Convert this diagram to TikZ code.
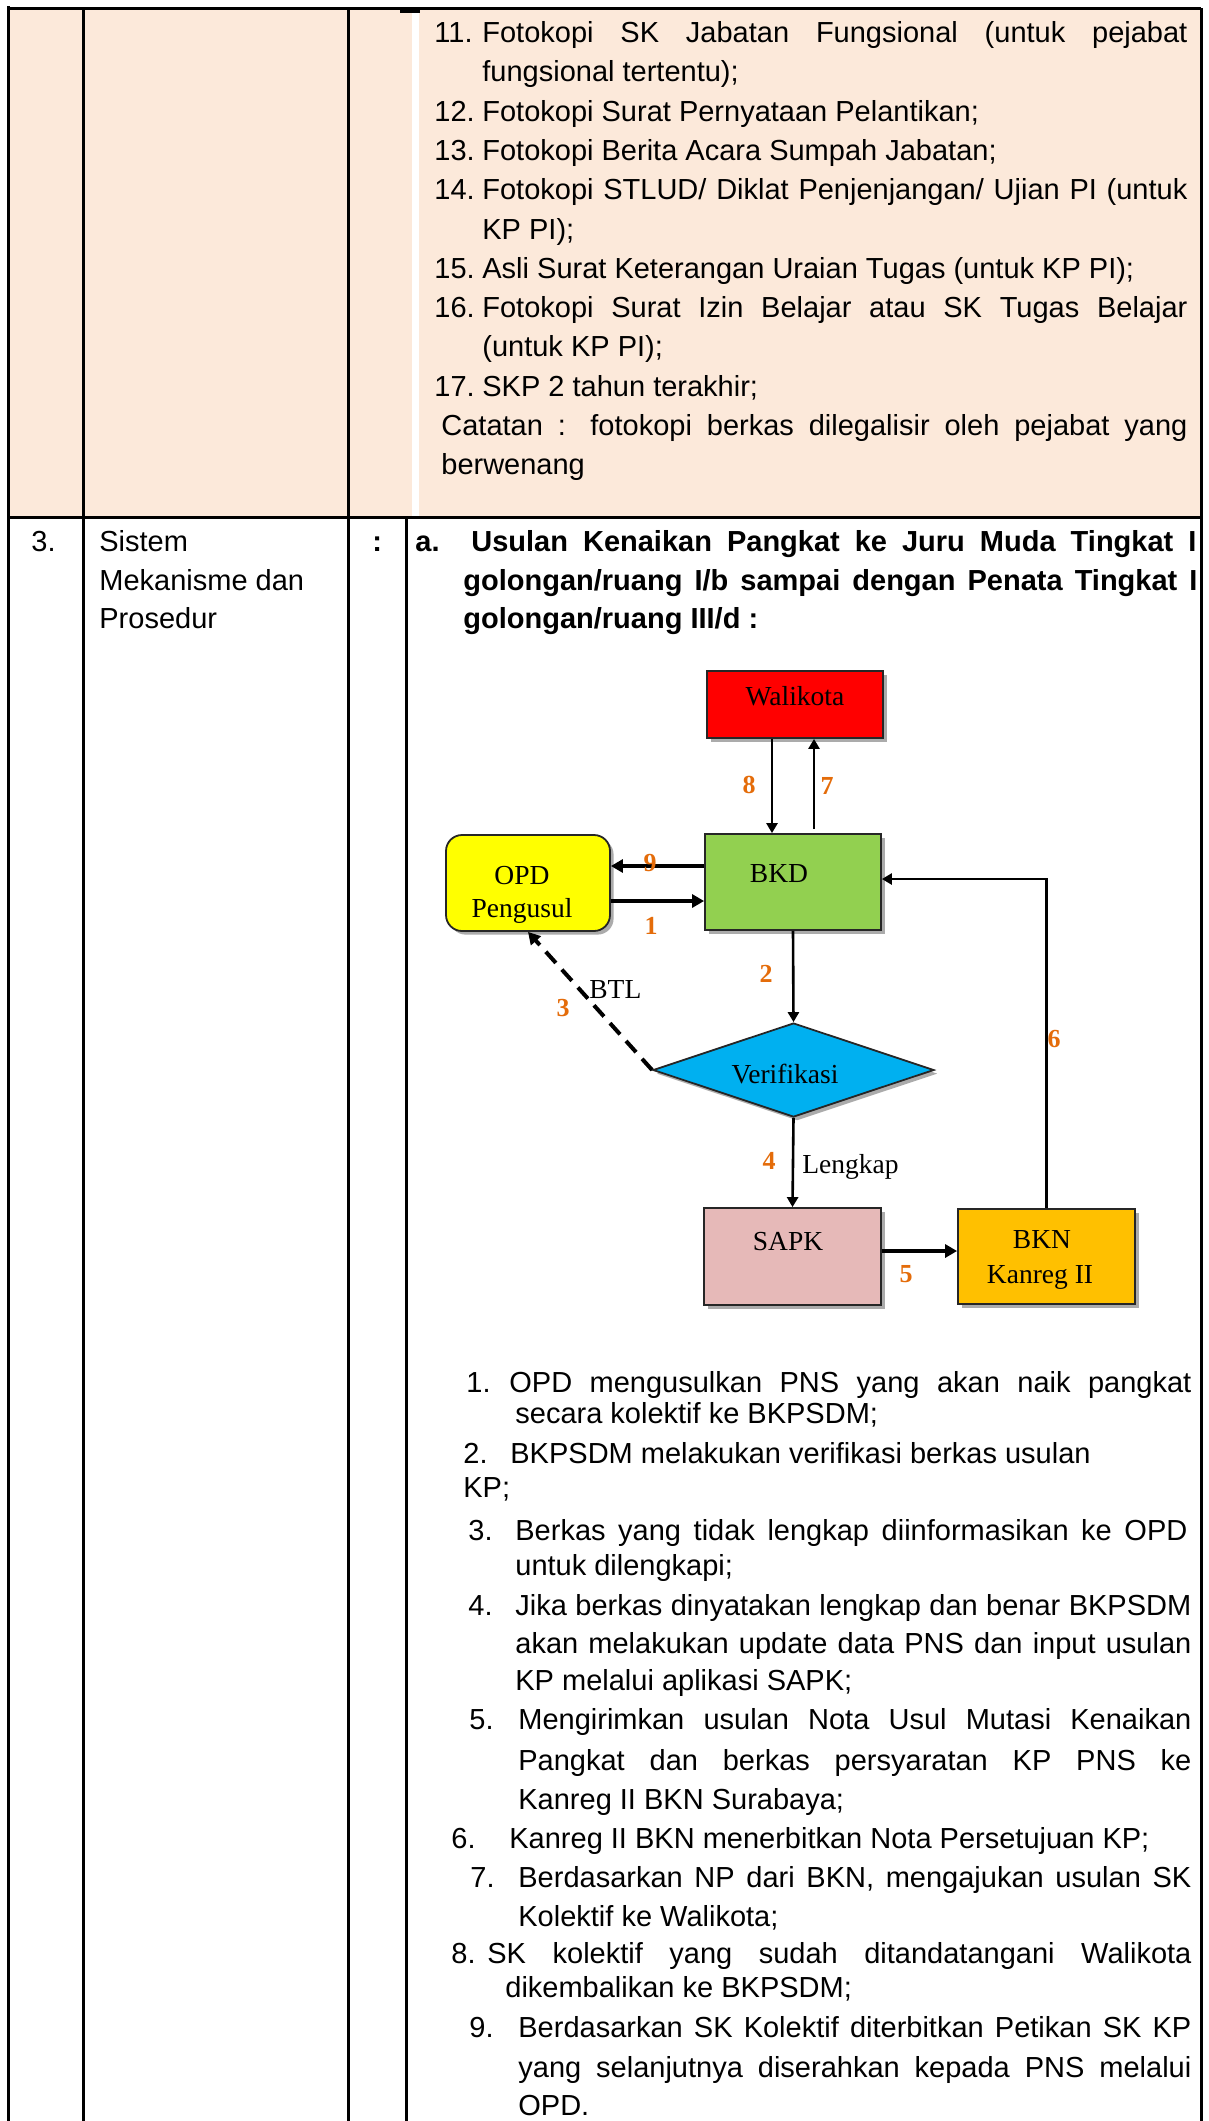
\documentclass[tikz,border=0pt]{standalone}
\usepackage{fontspec}
\setmainfont{Liberation Serif}
\newfontfamily\arialf{Liberation Sans}
\usetikzlibrary{arrows.meta,calc,shapes.geometric,shadows}
\definecolor{peach}{HTML}{FCE9DA}
\definecolor{walired}{HTML}{FF0000}
\definecolor{bkdgreen}{HTML}{92D050}
\definecolor{opdyellow}{HTML}{FFFF00}
\definecolor{verblue}{HTML}{00B0F0}
\definecolor{sapkpink}{HTML}{E6B9B8}
\definecolor{bknorange}{HTML}{FFC000}
\definecolor{numorange}{HTML}{E46C0A}
\newcommand\bodyf{\arialf\fontsize{14.5}{17}\selectfont}
\newcommand\diagf{\fontsize{13.75}{15}\selectfont}
\newcommand\jl[2]{\makebox[#1][s]{#2}}
\begin{document}
\begin{tikzpicture}[x=0.5pt,y=-0.5pt,
  rule/.style={line width=1.5pt},
  txt/.style={anchor=base west,inner sep=0pt,font=\bodyf},
  btxt/.style={anchor=base west,inner sep=0pt,font=\bodyf\bfseries},
  box/.style={draw=black!85,line width=0.9pt,inner sep=0pt,
    drop shadow={shadow xshift=1.8pt,shadow yshift=-1.8pt,fill=black!55,opacity=.6}},
  lbl/.style={anchor=base,inner sep=0pt,font=\diagf},
  num/.style={anchor=base,inner sep=0pt,text=numorange,font=\fontsize{13}{14}\selectfont\bfseries},
  arr/.style={line width=1.3pt,-{Triangle[length=5pt,width=5.5pt]}},
  arrb/.style={line width=2pt,-{Triangle[length=6pt,width=6.5pt]}},
  dsh/.style={line width=2pt,dash pattern=on 7.5pt off 4.5pt,-{Triangle[length=6pt,width=6.5pt]}},
]
\useasboundingbox (0,0) rectangle (1209,2121);

% shaded upper row
\fill[peach] (8,8) rectangle (412,517);
\fill[peach] (419,8) rectangle (1201,517);

% table rules
\draw[rule] (8,8) -- (1201,8);
\draw[rule] (400,11) -- (420,11);
\draw[rule] (8,517) -- (1201,517);
\draw[rule] (8,6) -- (8,2121);
\draw[rule] (83,8) -- (83,2121);
\draw[rule] (348,8) -- (348,2121);
\draw[rule] (406,517) -- (406,2121);
\draw[rule] (1201,8) -- (1201,2121);

% requirements list (continued)
\node[txt] (n11) at (434,42) {11.};
\node[txt] (r11a) at (482,42) {\jl{352.5pt}{Fotokopi SK Jabatan Fungsional (untuk pejabat}};
\node[txt] (r11b) at (482,81) {fungsional tertentu);};
\node[txt] (n12) at (434,121) {12.};
\node[txt] (r12) at (482,121) {Fotokopi Surat Pernyataan Pelantikan;};
\node[txt] (n13) at (434,160) {13.};
\node[txt] (r13) at (482,160) {Fotokopi Berita Acara Sumpah Jabatan;};
\node[txt] (n14) at (434,199) {14.};
\node[txt] (r14a) at (482,199) {\jl{352.5pt}{Fotokopi STLUD/ Diklat Penjenjangan/ Ujian PI (untuk}};
\node[txt] (r14b) at (482,239) {KP PI);};
\node[txt] (n15) at (434,278) {15.};
\node[txt] (r15) at (482,278) {Asli Surat Keterangan Uraian Tugas (untuk KP PI);};
\node[txt] (n16) at (434,317) {16.};
\node[txt] (r16a) at (482,317) {\jl{352.5pt}{Fotokopi Surat Izin Belajar atau SK Tugas Belajar}};
\node[txt] (r16b) at (482,356) {(untuk KP PI);};
\node[txt] (n17) at (434,396) {17.};
\node[txt] (r17) at (482,396) {SKP 2 tahun terakhir;};
\node[txt] (cat1) at (441,435) {\jl{373pt}{Catatan : fotokopi berkas dilegalisir oleh pejabat yang}};
\node[txt] (cat2) at (441,474) {berwenang};

% row 3 header
\node[txt] (no3) at (31,551) {3.};
\node[txt] (s1) at (99,551) {Sistem};
\node[txt] (s2) at (99,590) {Mekanisme dan};
\node[txt] (s3) at (99,628) {Prosedur};
\node[btxt] (colon) at (372,551) {:};
\node[btxt] (ha) at (415,551) {a.};
\node[btxt] (h1) at (471,551) {\jl{362.5pt}{Usulan Kenaikan Pangkat ke Juru Muda Tingkat I}};
\node[btxt] (h2) at (463,590) {\jl{367pt}{golongan/ruang I/b sampai dengan Penata Tingkat I}};
\node[btxt] (h3) at (463,628) {golongan/ruang III/d :};

% flowchart boxes
\node[box,fill=walired,minimum width=88pt,minimum height=33.5pt] (wali) at (795,704.5) {};
\node[box,fill=bkdgreen,minimum width=88pt,minimum height=48pt] (bkd) at (793,882) {};
\node[box,fill=opdyellow,rounded corners=8pt,minimum width=82pt,minimum height=48pt] (opd) at (528,883) {};
\node[box,diamond,fill=verblue,minimum width=140.5pt,minimum height=47pt] (ver) at (793.5,1070) {};
\node[box,fill=sapkpink,minimum width=88.5pt,minimum height=48.5pt] (sapk) at (792.5,1256.5) {};
\node[box,fill=bknorange,minimum width=88.5pt,minimum height=47.5pt] (bkn) at (1046.5,1256.5) {};

\node[lbl] (walit) at (795,705) {Walikota};
\node[lbl] (bkdt) at (779,882) {BKD};
\node[lbl] (opdt1) at (522,884) {OPD};
\node[lbl] (opdt2) at (522,917) {Pengusul};
\node[lbl] (vert) at (785,1083) {Verifikasi};
\node[lbl] (sapkt) at (788,1250) {SAPK};
\node[lbl] (bknt1) at (1042,1248) {BKN};
\node[lbl] (bknt2) at (1040,1283) {Kanreg II};

% connectors
\coordinate (p8) at ($(wali.south)+(-23,0)$);
\draw[arr] (p8) -- (p8 |- bkd.north);
\coordinate (p7) at ($(bkd.north)+(21,-4)$);
\draw[arr] (p7) -- (p7 |- wali.south);
\coordinate (p9) at ($(bkd.west)+(0,-16)$);
\draw[arrb] (p9) -- (p9 -| opd.east);
\coordinate (p1) at ($(opd.east)+(0,18)$);
\draw[arrb] (p1) -- (p1 -| bkd.west);
\draw[arr] (bkd.south) -- (ver.north);
\draw[dsh] (ver.west) -- (opd.south);
\draw[arr] (ver.south) -- (sapk.north);
\coordinate (p5) at ($(sapk.east)+(0,-5.5)$);
\draw[arrb] (p5) -- (p5 -| bkn.west);
\draw[arr] (bkn.north) |- ($(bkd.east)+(0,-3)$);

% step numbers and branch labels
\node[num] (k8) at (749,793) {8};
\node[num] (k7) at (827,794) {7};
\node[num] (k9) at (650,871) {9};
\node[num] (k1) at (651,934) {1};
\node[num] (k2) at (766,982) {2};
\node[num] (k3) at (563,1016) {3};
\node[num] (k4) at (769,1169) {4};
\node[num] (k5) at (906,1282) {5};
\node[num] (k6) at (1054,1047) {6};
\node[lbl,anchor=base west] (btl) at (589,998) {BTL};
\node[lbl,anchor=base west] (lengkap) at (802,1173) {Lengkap};

% procedure steps
\node[txt] (m1) at (466,1392) {1.};
\node[txt] (m1a) at (509,1392) {\jl{341pt}{OPD mengusulkan PNS yang akan naik pangkat}};
\node[txt] (m1b) at (515,1423) {secara kolektif ke BKPSDM;};
\node[txt] (m2) at (463,1463) {2.};
\node[txt] (m2a) at (510,1463) {BKPSDM melakukan verifikasi berkas usulan};
\node[txt] (m2b) at (463,1497) {KP;};
\node[txt] (m3) at (468,1540) {3.};
\node[txt] (m3a) at (515,1540) {\jl{336pt}{Berkas yang tidak lengkap diinformasikan ke OPD}};
\node[txt] (m3b) at (515,1575) {untuk dilengkapi;};
\node[txt] (m4) at (468,1615) {4.};
\node[txt] (m4a) at (515,1615) {\jl{338pt}{Jika berkas dinyatakan lengkap dan benar BKPSDM}};
\node[txt] (m4b) at (515,1653) {\jl{338pt}{akan melakukan update data PNS dan input usulan}};
\node[txt] (m4c) at (515,1690) {KP melalui aplikasi SAPK;};
\node[txt] (m5) at (469,1729) {5.};
\node[txt] (m5a) at (518,1729) {\jl{336.5pt}{Mengirimkan usulan Nota Usul Mutasi Kenaikan}};
\node[txt] (m5b) at (518,1770) {\jl{336.5pt}{Pangkat dan berkas persyaratan KP PNS ke}};
\node[txt] (m5c) at (518,1809) {Kanreg II BKN Surabaya;};
\node[txt] (m6) at (451,1848) {6.};
\node[txt] (m6a) at (509,1848) {Kanreg II BKN menerbitkan Nota Persetujuan KP;};
\node[txt] (m7) at (470,1887) {7.};
\node[txt] (m7a) at (518,1887) {\jl{336.5pt}{Berdasarkan NP dari BKN, mengajukan usulan SK}};
\node[txt] (m7b) at (518,1926) {Kolektif ke Walikota;};
\node[txt] (m8) at (451,1963) {8.};
\node[txt] (m8a) at (487,1963) {\jl{352pt}{SK kolektif yang sudah ditandatangani Walikota}};
\node[txt] (m8b) at (505,1997) {dikembalikan ke BKPSDM;};
\node[txt] (m9) at (469,2037) {9.};
\node[txt] (m9a) at (518,2037) {\jl{336.5pt}{Berdasarkan SK Kolektif diterbitkan Petikan SK KP}};
\node[txt] (m9b) at (518,2077) {\jl{336.5pt}{yang selanjutnya diserahkan kepada PNS melalui}};
\node[txt] (m9c) at (518,2115) {OPD.};
\end{tikzpicture}
\end{document}
